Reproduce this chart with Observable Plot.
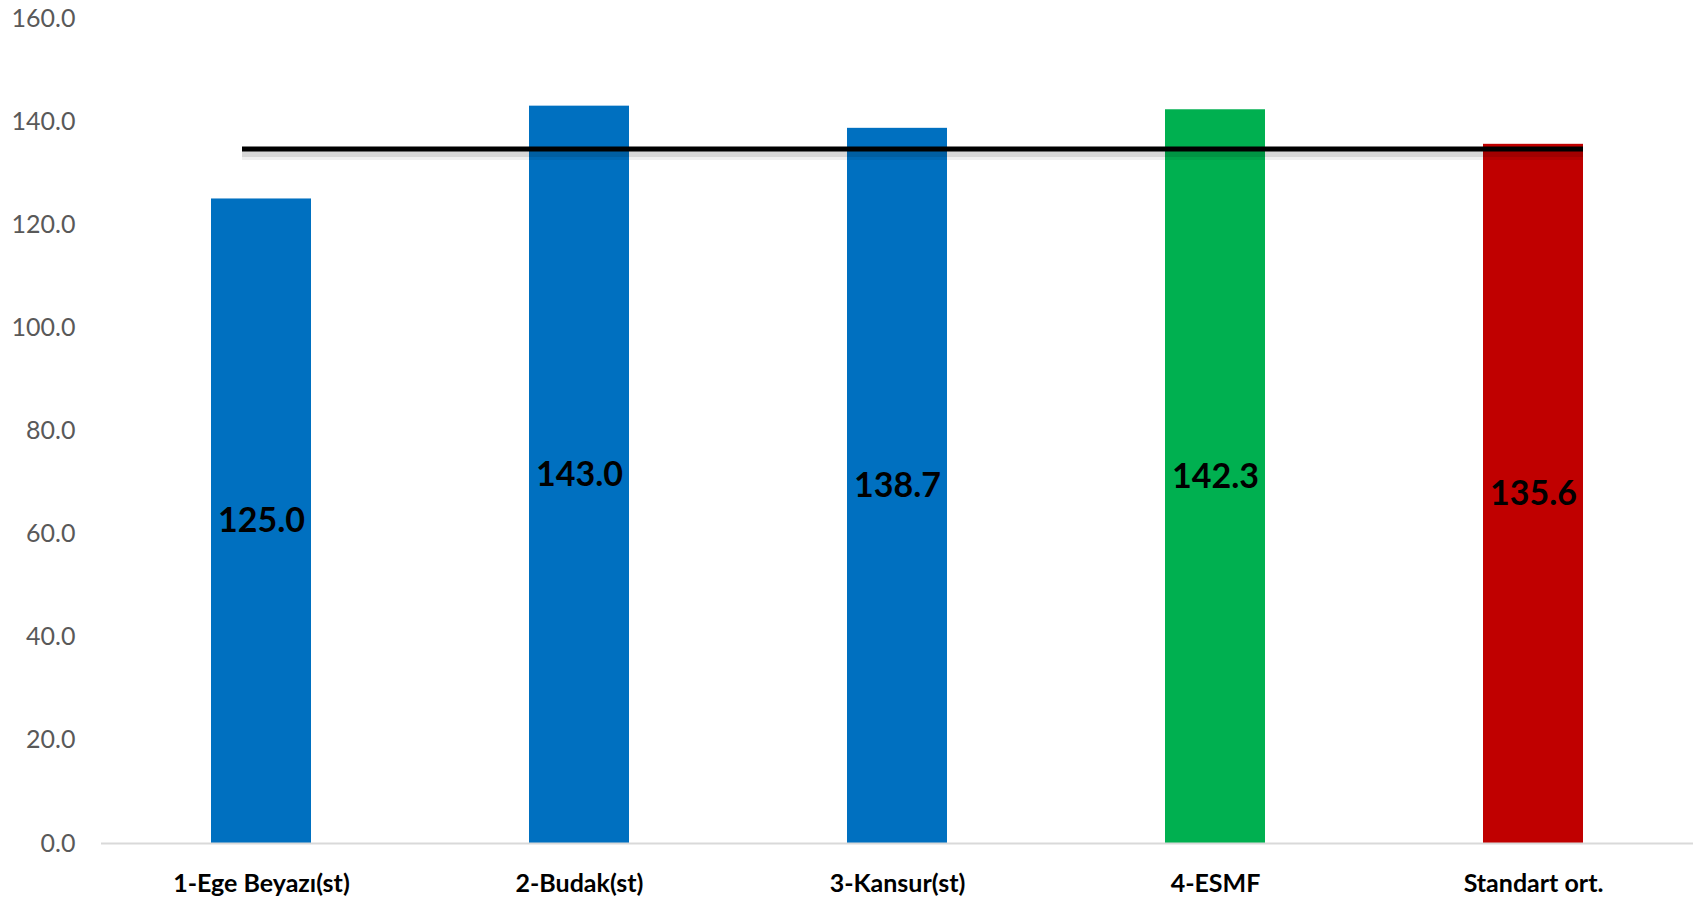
<!DOCTYPE html>
<html>
<head>
<meta charset="utf-8">
<script src="https://cdn.jsdelivr.net/npm/d3@7"></script>
<script src="https://cdn.jsdelivr.net/npm/@observablehq/plot@0.6"></script>
<style>
  html, body { margin: 0; padding: 0; background: #fff; }
  #chart svg { display: block; }
</style>
</head>
<body>
<div id="chart"></div>
<script>
const categories = ["1-Ege Beyazı(st)", "2-Budak(st)", "3-Kansur(st)", "4-ESMF", "Standart ort."];
const values = [125.0, 143.0, 138.7, 142.3, 135.6];
const barColors = ["#0070C0", "#0070C0", "#0070C0", "#00B050", "#C00000"];
const referenceLine = 134.7;
const yTicks = [0, 20, 40, 60, 80, 100, 120, 140, 160];

const data = categories.map((c, i) => ({category: c, value: values[i], color: barColors[i]}));

const chart = Plot.plot({
  width: 1698,
  height: 906,
  marginTop: 18,
  marginBottom: 63,
  marginLeft: 101,
  marginRight: 5,
  style: {fontFamily: "Lato, sans-serif", color: "#595959", background: "#fff"},
  x: {domain: categories, paddingInner: 0.686, paddingOuter: 0.343, label: null},
  y: {domain: [0, 160], label: null},
  color: {type: "identity"},
  marks: [
    Plot.axisY({ticks: yTicks, tickFormat: d => d.toFixed(1), tickSize: 0, tickPadding: 26, fontSize: 25, fill: "#595959", label: null}),
    Plot.axisX({tickSize: 0, tickPadding: 31, fontSize: 25, fontWeight: "bold", fill: "#000", label: null}),
    Plot.barY(data, {x: "category", y: "value", fill: "color"}),
    Plot.ruleY([0], {stroke: "#d9d9d9", strokeWidth: 2}),
    Plot.ruleY([referenceLine], {stroke: "#000", strokeOpacity: 0.06, strokeWidth: 12, dy: 5, insetLeft: 141, insetRight: 110}),
    Plot.ruleY([referenceLine], {stroke: "#000", strokeOpacity: 0.1, strokeWidth: 6, dy: 5, insetLeft: 141, insetRight: 110}),
    Plot.ruleY([referenceLine], {stroke: "#000", strokeWidth: 5, insetLeft: 141, insetRight: 110}),
    Plot.text(data, {x: "category", y: d => d.value / 2, text: d => d.value.toFixed(1), fontSize: 34, fontWeight: "bold", fill: "#000"})
  ]
});
document.getElementById("chart").appendChild(chart);
</script>
</body>
</html>
